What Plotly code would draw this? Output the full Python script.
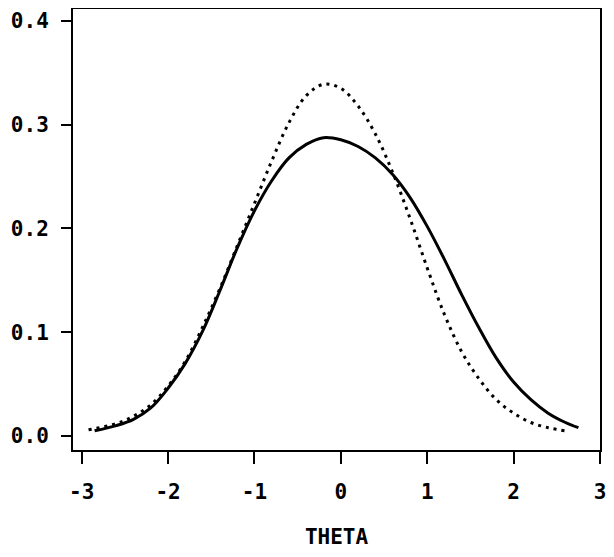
import plotly.graph_objects as go

# solid curve
theta_solid = [-2.85, -2.6, -2.4, -2.2, -2.0, -1.8, -1.6, -1.4, -1.2, -1.0, -0.8, -0.6, -0.4,
               -0.2, 0.0, 0.2, 0.4, 0.6, 0.8, 1.0, 1.2, 1.4, 1.6, 1.8, 2.0, 2.2, 2.4, 2.6, 2.75]
dens_solid = [0.005, 0.010, 0.016, 0.027, 0.046, 0.070, 0.101, 0.140, 0.181, 0.217, 0.246, 0.268, 0.281,
              0.2875, 0.2855, 0.279, 0.268, 0.252, 0.230, 0.202, 0.170, 0.136, 0.104, 0.075, 0.052,
              0.035, 0.022, 0.013, 0.008]

# dotted curve
theta_dot = [-2.92, -2.6, -2.4, -2.2, -2.0, -1.8, -1.6, -1.4, -1.2, -1.0, -0.8, -0.6, -0.4,
             -0.2, 0.0, 0.2, 0.4, 0.6, 0.8, 1.0, 1.2, 1.4, 1.6, 1.8, 2.0, 2.2, 2.4, 2.6]
dens_dot = [0.006, 0.012, 0.019, 0.030, 0.048, 0.072, 0.105, 0.142, 0.183, 0.224, 0.265, 0.302, 0.328,
            0.339, 0.335, 0.318, 0.291, 0.254, 0.210, 0.162, 0.117, 0.081, 0.055, 0.035, 0.022,
            0.013, 0.008, 0.005]

x_ticks = [-3, -2, -1, 0, 1, 2, 3]
y_ticks = [0.0, 0.1, 0.2, 0.3, 0.4]

fig = go.Figure()
fig.add_trace(go.Scatter(x=theta_dot, y=dens_dot, mode='lines', line_shape='spline',
                         line=dict(color='black', width=3, dash='3px,5px'), showlegend=False))
fig.add_trace(go.Scatter(x=theta_solid, y=dens_solid, mode='lines', line_shape='spline',
                         line=dict(color='black', width=3), showlegend=False))

axis_font = dict(family='DejaVu Sans Mono', size=21, color='black', weight='bold')
fig.update_xaxes(range=[-3.1, 3.0], tickvals=x_ticks, ticktext=[str(v) for v in x_ticks],
                 showline=True, mirror=True, linecolor='black', linewidth=2,
                 ticks='outside', ticklen=12, tickwidth=2, tickcolor='black',
                 showgrid=False, zeroline=False, tickfont=axis_font, ticklabelstandoff=10,
                 ticklabeloverflow='allow', automargin=False,
                 title=dict(text='THETA', font=axis_font, standoff=33))
fig.update_yaxes(range=[-0.0135, 0.4115], tickvals=y_ticks, ticktext=[f'{v:.1f}' for v in y_ticks],
                 showline=True, mirror=True, linecolor='black', linewidth=2,
                 ticks='outside', ticklen=10, tickwidth=2, tickcolor='black',
                 showgrid=False, zeroline=False, tickfont=axis_font, ticklabelstandoff=8,
                 automargin=False)
# page body adds an 8px margin, so the figure is kept small enough to avoid scrollbars
fig.update_layout(width=598, height=541, plot_bgcolor='white', paper_bgcolor='white',
                  margin=dict(l=65, r=6, t=1, b=99))
fig.write_html("out.html")
